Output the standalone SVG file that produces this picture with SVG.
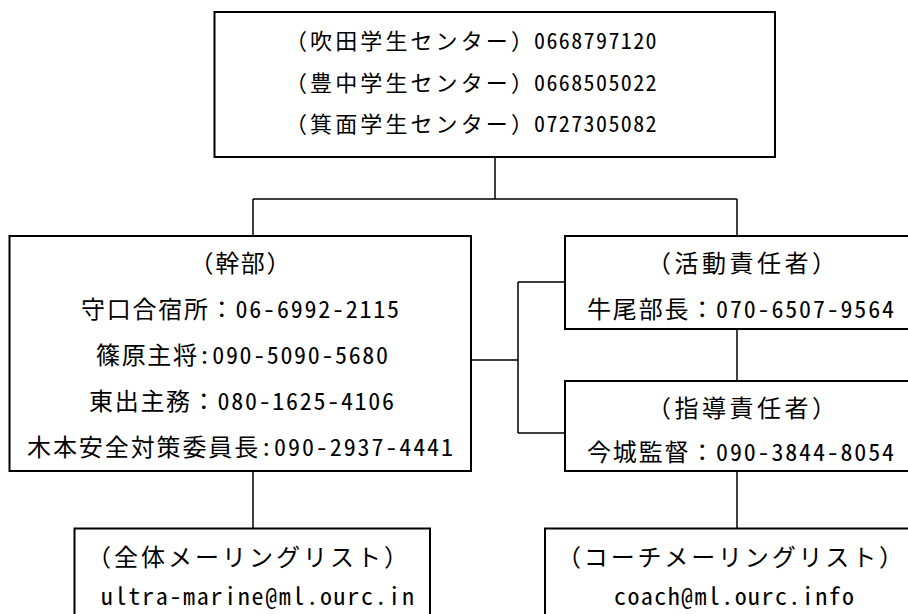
<svg xmlns="http://www.w3.org/2000/svg" width="908" height="614" viewBox="0 0 908 614">
<style>
.box{fill:#fff;stroke:#000;stroke-width:2}
.ln{fill:none;stroke:#000;stroke-width:1.5}
.t{font-family:"Noto Sans Mono CJK JP","Noto Sans CJK JP","DejaVu Sans",sans-serif;font-size:24px;fill:#000}
.tt{font-size:22px}
.lab{letter-spacing:3.1px}
.cp{letter-spacing:0}
.num{letter-spacing:1.4px}
.m{text-anchor:middle}
.mail{font-family:"Noto Sans Mono CJK JP","DejaVu Sans Mono","Liberation Mono",monospace;font-size:24px;fill:#000;text-anchor:middle}
</style>
<rect width="908" height="614" fill="#fff"/>
<g id="connectors">
<path class="ln" d="M495 157V199M253 199H737M253 199V236M737 199V236"/>
<path class="ln" d="M471 360H518M518 282V433M518 282H565M518 433H565"/>
<path class="ln" d="M737 329V381"/>
<path class="ln" d="M253 471V528"/>
<path class="ln" d="M737 471V528"/>
</g>
<g id="centers">
<rect class="box" x="214.5" y="12" width="560.5" height="145"/>
<text class="t tt" y="48.5"><tspan class="lab" x="285">（吹田学生センター</tspan><tspan class="cp">）</tspan><tspan class="num" x="534">0668797120</tspan></text>
<text class="t tt" y="90.5"><tspan class="lab" x="285">（豊中学生センター</tspan><tspan class="cp">）</tspan><tspan class="num" x="534">0668505022</tspan></text>
<text class="t tt" y="131.5"><tspan class="lab" x="285">（箕面学生センター</tspan><tspan class="cp">）</tspan><tspan class="num" x="534">0727305082</tspan></text>
</g>
<g id="kanbu">
<rect class="box" x="9.5" y="236" width="461.5" height="235"/>
<text class="t m" x="240" y="272" textLength="101">（幹部）</text>
<text class="t m" x="240" y="318" textLength="318">守口合宿所：06-6992-2115</text>
<text class="t m" x="242" y="364" textLength="292">篠原主将:090-5090-5680</text>
<text class="t m" x="241.5" y="410" textLength="305">東出主務：080-1625-4106</text>
<text class="t m" x="240" y="456" textLength="426">木本安全対策委員長:090-2937-4441</text>
</g>
<g id="katsudo">
<rect class="box" x="565" y="236" width="355" height="93"/>
<text class="t m" x="741.5" y="272" textLength="189">（活動責任者）</text>
<text class="t m" x="740.5" y="318" textLength="307">牛尾部長：070-6507-9564</text>
</g>
<g id="shido">
<rect class="box" x="565" y="381" width="355" height="90"/>
<text class="t m" x="741.5" y="417" textLength="189">（指導責任者）</text>
<text class="t m" x="740.5" y="461" textLength="307">今城監督：090-3844-8054</text>
</g>
<g id="zentai-ml">
<rect class="box" x="74.5" y="528.5" width="355.5" height="110"/>
<text class="t m" x="247.5" y="565.5" textLength="321">（全体メーリングリスト）</text>
<text class="mail" x="257.5" y="605" textLength="313">ultra-marine@ml.ourc.in</text>
</g>
<g id="coach-ml">
<rect class="box" x="545" y="528.5" width="390" height="110"/>
<text class="t m" x="730" y="565.5" textLength="346">（コーチメーリングリスト）</text>
<text class="mail" x="734" y="605" textLength="240">coach@ml.ourc.info</text>
</g>
</svg>
